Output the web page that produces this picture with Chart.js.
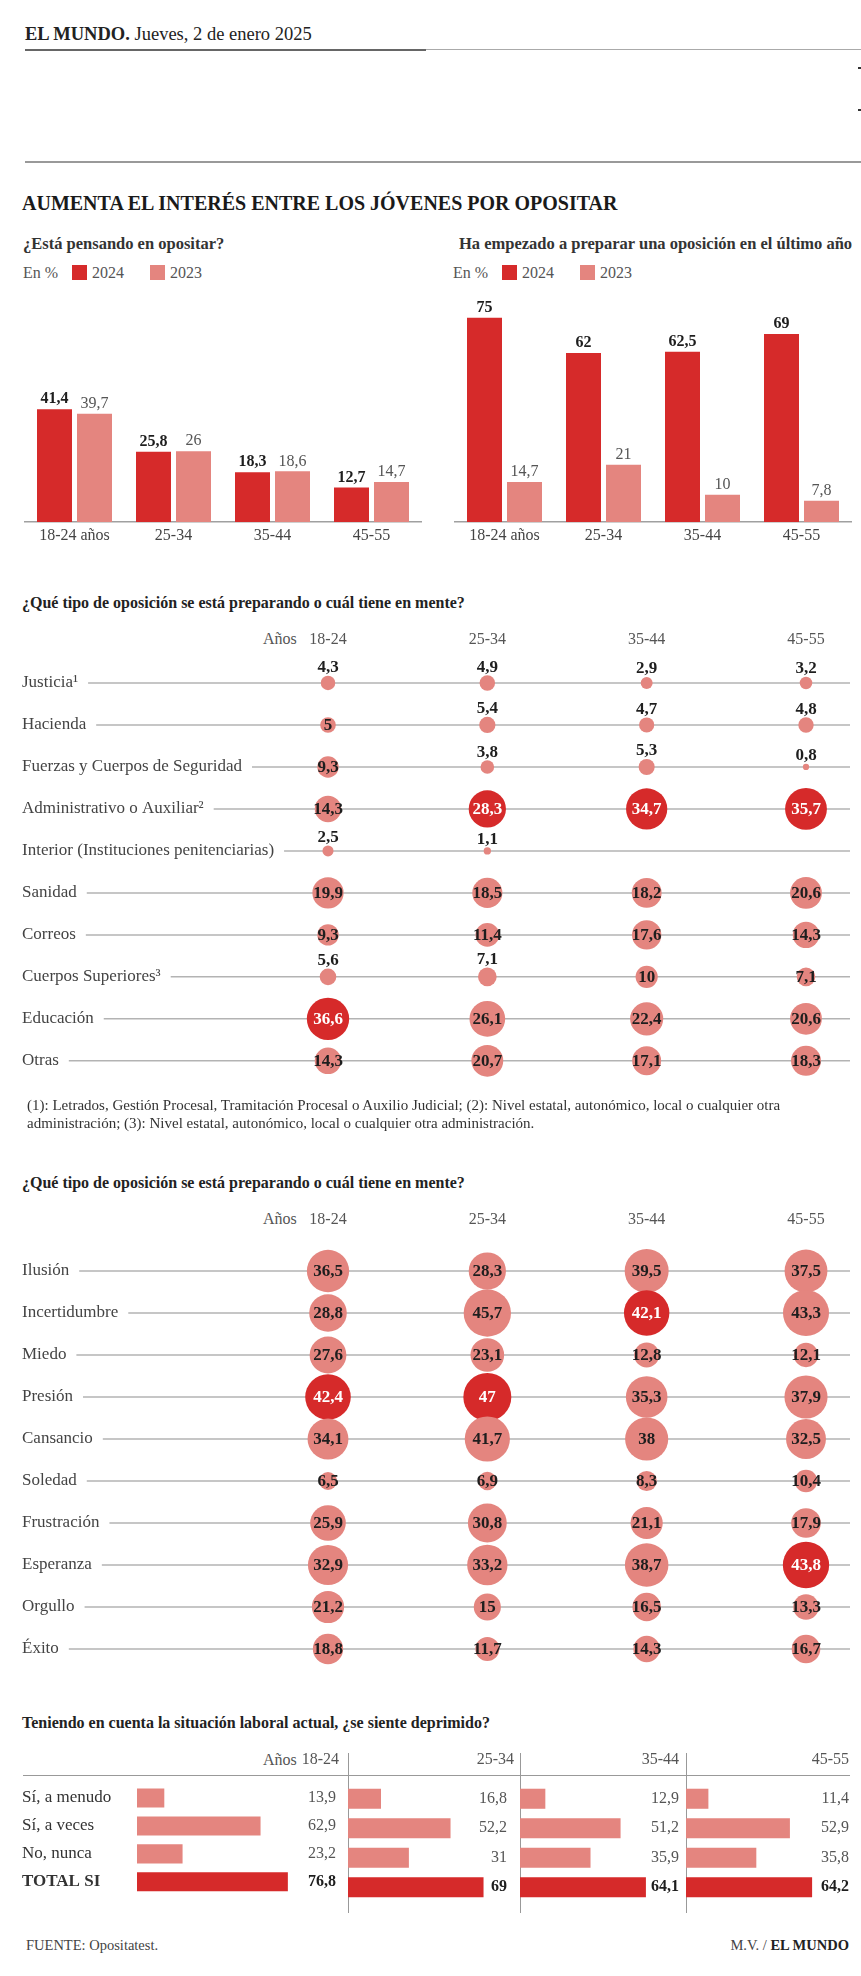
<!DOCTYPE html>
<html lang="es">
<head>
<meta charset="utf-8">
<script src="https://cdn.jsdelivr.net/npm/chart.js@4.4.1/dist/chart.umd.min.js"></script>
<style>
  html, body { margin: 0; padding: 0; background: #fff; }
  body { width: 861px; height: 1976px; position: relative; overflow: hidden;
         font-family: "Liberation Serif", "DejaVu Serif", serif; color: #222; }
  .t { position: absolute; white-space: nowrap; line-height: 20px; }
  .rule { position: absolute; }
  .sq { display: inline-block; width: 15px; height: 15px; vertical-align: -2px; margin-right: 5px; }
  canvas { position: absolute; }
</style>
</head>
<body>
<!-- cabecera -->
<div class="t" style="left:25px; top:24px; font-size:18.5px;"><b>EL MUNDO.</b> Jueves, 2 de enero 2025</div>
<div class="rule" style="left:25px; top:49px; width:401px; height:2px; background:#666;"></div>
<div class="rule" style="left:426px; top:49px; width:435px; height:1px; background:#aaa;"></div>
<div class="rule" style="left:858px; top:67px; width:3px; height:2px; background:#333;"></div>
<div class="rule" style="left:858px; top:109px; width:3px; height:2px; background:#333;"></div>
<div class="rule" style="left:25px; top:161px; width:836px; height:2px; background:#999;"></div>
<div class="t" style="left:22px; top:193px; font-size:20px; font-weight:bold; color:#1a1a1a;">AUMENTA EL INTERÉS ENTRE LOS JÓVENES POR OPOSITAR</div>

<!-- barras -->
<div class="t" style="left:23px; top:234px; font-size:16.5px; font-weight:bold; color:#333;">¿Está pensando en opositar?</div>
<div class="t" style="left:23px; top:263px; font-size:16px; color:#555;">En %<span style="display:inline-block;width:14px"></span><span class="sq" style="background:#d62a2a"></span>2024<span style="display:inline-block;width:26px"></span><span class="sq" style="background:#e4857f"></span>2023</div>
<div class="t" style="left:459px; top:234px; font-size:16.5px; font-weight:bold; color:#333;">Ha empezado a preparar una oposición en el último año</div>
<div class="t" style="left:453px; top:263px; font-size:16px; color:#555;">En %<span style="display:inline-block;width:14px"></span><span class="sq" style="background:#d62a2a"></span>2024<span style="display:inline-block;width:26px"></span><span class="sq" style="background:#e4857f"></span>2023</div>
<canvas id="pensando" width="430" height="310" style="left:0; top:240px; width:430px; height:310px;"></canvas>
<canvas id="empezado" width="431" height="310" style="left:430px; top:240px; width:431px; height:310px;"></canvas>

<!-- tipo de oposicion -->
<div class="t" style="left:22px; top:593px; font-size:16px; font-weight:bold; color:#222;">¿Qué tipo de oposición se está preparando o cuál tiene en mente?</div>
<div class="t" style="left:263px; top:629px; font-size:16px; color:#555;">Años</div>
<canvas id="tipo" width="861" height="488" style="left:0; top:615px; width:861px; height:488px;"></canvas>
<div class="t" style="left:27px; top:1096px; font-size:15px; color:#333; line-height:18px;">(1): Letrados, Gestión Procesal, Tramitación Procesal o Auxilio Judicial; (2): Nivel estatal, autonómico, local o cualquier otra<br>administración; (3): Nivel estatal, autonómico, local o cualquier otra administración.</div>

<!-- emociones -->
<div class="t" style="left:22px; top:1173px; font-size:16px; font-weight:bold; color:#222;">¿Qué tipo de oposición se está preparando o cuál tiene en mente?</div>
<div class="t" style="left:263px; top:1209px; font-size:16px; color:#555;">Años</div>
<canvas id="emocion" width="861" height="500" style="left:0; top:1200px; width:861px; height:500px;"></canvas>

<!-- deprimido -->
<div class="t" style="left:22px; top:1713px; font-size:16px; font-weight:bold; color:#222;">Teniendo en cuenta la situación laboral actual, ¿se siente deprimido?</div>
<div class="t" style="left:263px; top:1750px; font-size:16px; color:#555;">Años</div>
<div class="rule" style="left:23px; top:1775px; width:827px; height:1px; background:#999;"></div>
<div class="rule" style="left:348px; top:1753px; width:1px; height:160px; background:#999;"></div>
<div class="rule" style="left:520px; top:1753px; width:1px; height:160px; background:#999;"></div>
<div class="rule" style="left:686px; top:1753px; width:1px; height:160px; background:#999;"></div>
<canvas id="dep0" width="348" height="166" style="left:0; top:1740px; width:348px; height:166px;"></canvas>
<canvas id="dep1" width="172" height="166" style="left:348px; top:1740px; width:172px; height:166px;"></canvas>
<canvas id="dep2" width="166" height="166" style="left:520px; top:1740px; width:166px; height:166px;"></canvas>
<canvas id="dep3" width="175" height="166" style="left:686px; top:1740px; width:175px; height:166px;"></canvas>

<div class="t" style="left:26px; top:1935px; font-size:14.5px; color:#444;">FUENTE: Opositatest.</div>
<div class="t" style="right:12px; top:1935px; font-size:14.5px; color:#444;">M.V. / <b style="color:#222">EL MUNDO</b></div>

<script>
// --- datos ---
const ageGroups = ['18-24 años', '25-34', '35-44', '45-55'];
const pensando2024 = [41.4, 25.8, 18.3, 12.7];
const pensando2023 = [39.7, 26, 18.6, 14.7];
const empezado2024 = [75, 62, 62.5, 69];
const empezado2023 = [14.7, 21, 10, 7.8];

const ageCols = ['18-24', '25-34', '35-44', '45-55'];

const tipoLabels = ['Justicia¹', 'Hacienda', 'Fuerzas y Cuerpos de Seguridad', 'Administrativo o Auxiliar²',
  'Interior (Instituciones penitenciarias)', 'Sanidad', 'Correos', 'Cuerpos Superiores³', 'Educación', 'Otras'];
const tipo1824 = [4.3, 5, 9.3, 14.3, 2.5, 19.9, 9.3, 5.6, 36.6, 14.3];
const tipo2534 = [4.9, 5.4, 3.8, 28.3, 1.1, 18.5, 11.4, 7.1, 26.1, 20.7];
const tipo3544 = [2.9, 4.7, 5.3, 34.7, null, 18.2, 17.6, 10, 22.4, 17.1];
const tipo4555 = [3.2, 4.8, 0.8, 35.7, null, 20.6, 14.3, 7.1, 20.6, 18.3];

const emocionLabels = ['Ilusión', 'Incertidumbre', 'Miedo', 'Presión', 'Cansancio', 'Soledad',
  'Frustración', 'Esperanza', 'Orgullo', 'Éxito'];
const emocion1824 = [36.5, 28.8, 27.6, 42.4, 34.1, 6.5, 25.9, 32.9, 21.2, 18.8];
const emocion2534 = [28.3, 45.7, 23.1, 47, 41.7, 6.9, 30.8, 33.2, 15, 11.7];
const emocion3544 = [39.5, 42.1, 12.8, 35.3, 38, 8.3, 21.1, 38.7, 16.5, 14.3];
const emocion4555 = [37.5, 43.3, 12.1, 37.9, 32.5, 10.4, 17.9, 43.8, 13.3, 16.7];

const deprimidoLabels = ['Sí, a menudo', 'Sí, a veces', 'No, nunca', 'TOTAL SI'];
const deprimido1824 = [13.9, 62.9, 23.2, 76.8];
const deprimido2534 = [16.8, 52.2, 31, 69];
const deprimido3544 = [12.9, 51.2, 35.9, 64.1];
const deprimido4555 = [11.4, 52.9, 35.8, 64.2];

// --- estilo ---
const RED = '#d62a2a';
const PINK = '#e4857f';
const SERIF = '"Liberation Serif", "DejaVu Serif", serif';
Chart.defaults.font.family = SERIF;

function fmt(v) { return String(v).replace('.', ','); }

// etiquetas encima de las barras
const barLabels = {
  id: 'barLabels',
  afterDatasetsDraw(chart) {
    const ctx = chart.ctx;
    ctx.save();
    ctx.textAlign = 'center';
    ctx.textBaseline = 'middle';
    chart.data.datasets.forEach((ds, i) => {
      ctx.font = (i === 0 ? 'bold ' : '') + '16px ' + SERIF;
      ctx.fillStyle = i === 0 ? '#1e1e1e' : '#555';
      chart.getDatasetMeta(i).data.forEach((bar, j) => {
        ctx.fillText(fmt(ds.data[j]), bar.x, bar.y - 10);
      });
    });
    ctx.restore();
  }
};

function groupedBars(id, a, b, padLeft, padRight) {
  new Chart(document.getElementById(id), {
    type: 'bar',
    data: {
      labels: ageGroups,
      datasets: [
        { label: '2024', data: a, backgroundColor: RED },
        { label: '2023', data: b, backgroundColor: PINK }
      ]
    },
    options: {
      responsive: false,
      animation: false,
      events: [],
      datasets: { bar: { categoryPercentage: 0.808, barPercentage: 0.875 } },
      layout: { padding: { left: padLeft, right: padRight, top: 64, bottom: 0 } },
      scales: {
        x: {
          grid: { display: false, drawTicks: false },
          border: { color: '#a0a0a0', width: 1.5 },
          ticks: { font: { size: 16 }, color: '#444', padding: 4 },
          afterFit(s) { s.height = 28; }
        },
        y: { display: false, min: 0, max: 80 }
      },
      plugins: { legend: { display: false }, tooltip: { enabled: false } }
    },
    plugins: [barLabels]
  });
}

groupedBars('pensando', pensando2024, pensando2023, 25, 9);
groupedBars('empezado', empezado2024, empezado2023, 25, 10);

// filas, lineas y valores de las burbujas
const bubbleDecor = {
  id: 'bubbleDecor',
  beforeDatasetsDraw(chart, args, opts) {
    const ctx = chart.ctx;
    const y = chart.scales.y;
    ctx.save();
    ctx.font = '17px ' + SERIF;
    ctx.textBaseline = 'middle';
    ctx.textAlign = 'left';
    opts.rows.forEach((name, i) => {
      const py = y.getPixelForValue(i);
      ctx.fillStyle = '#444';
      ctx.fillText(name, 22, py);
      const w = ctx.measureText(name).width;
      ctx.strokeStyle = '#b3b3b3';
      ctx.lineWidth = 1.5;
      ctx.beginPath();
      ctx.moveTo(22 + w + 10, py);
      ctx.lineTo(850, py);
      ctx.stroke();
    });
    ctx.restore();
  },
  afterDatasetsDraw(chart, args, opts) {
    const ctx = chart.ctx;
    ctx.save();
    ctx.font = 'bold 17px ' + SERIF;
    ctx.textAlign = 'center';
    ctx.textBaseline = 'middle';
    chart.data.datasets.forEach((ds, c) => {
      chart.getDatasetMeta(c).data.forEach((pt, k) => {
        const raw = ds.data[k];
        const above = opts.above.includes(raw.y + '-' + c);
        if (above) {
          ctx.fillStyle = '#1e1e1e';
          ctx.fillText(fmt(raw.v), pt.x, pt.y - raw.r - 8);
        } else {
          ctx.fillStyle = raw.top ? '#fff' : '#1e1e1e';
          ctx.fillText(fmt(raw.v), pt.x, pt.y + 1);
        }
      });
    });
    ctx.restore();
  }
};

function bubbleGrid(id, rows, cols, axisH, tickPad, padBottom, above) {
  const datasets = cols.map((vals, c) => {
    const max = Math.max(...vals.filter((v) => v != null));
    const data = [];
    vals.forEach((v, r) => {
      if (v == null) return;
      data.push({ x: ageCols[c], y: r, r: 3.5 * Math.sqrt(v), v, top: v === max });
    });
    return {
      data,
      clip: false,
      borderWidth: 0,
      backgroundColor: (ctx) => (ctx.raw && ctx.raw.top ? RED : PINK)
    };
  });
  new Chart(document.getElementById(id), {
    type: 'bubble',
    data: { labels: ageCols, datasets },
    options: {
      responsive: false,
      animation: false,
      events: [],
      layout: { padding: { left: 328, right: 55, top: 0, bottom: padBottom } },
      scales: {
        x: {
          type: 'category',
          labels: ageCols,
          position: 'top',
          offset: false,
          grid: { display: false, drawTicks: false },
          border: { display: false },
          ticks: { font: { size: 16 }, color: '#555', padding: tickPad },
          afterFit(s) { s.height = axisH; }
        },
        y: { display: false, min: -0.5, max: rows.length - 0.5, reverse: true }
      },
      plugins: {
        legend: { display: false },
        tooltip: { enabled: false },
        bubbleDecor: { rows, above }
      }
    },
    plugins: [bubbleDecor]
  });
}

bubbleGrid('tipo', tipoLabels, [tipo1824, tipo2534, tipo3544, tipo4555], 47, 13, 20,
  ['0-0', '0-1', '0-2', '0-3', '1-1', '1-2', '1-3', '2-1', '2-2', '2-3', '4-0', '4-1', '7-0', '7-1']);
bubbleGrid('emocion', emocionLabels, [emocion1824, emocion2534, emocion3544, emocion4555], 50, 21, 30, []);

// barras horizontales por franja de edad
const depLabels = {
  id: 'depLabels',
  afterDatasetsDraw(chart, args, opts) {
    const ctx = chart.ctx;
    const ds = chart.data.datasets[0];
    ctx.save();
    ctx.textAlign = 'right';
    ctx.textBaseline = 'middle';
    chart.getDatasetMeta(0).data.forEach((bar, j) => {
      const total = j === ds.data.length - 1;
      ctx.font = (total ? 'bold ' : '') + '16px ' + SERIF;
      ctx.fillStyle = total ? '#1e1e1e' : '#555';
      ctx.fillText(fmt(ds.data[j]), opts.labelX, bar.y);
    });
    ctx.font = '16px ' + SERIF;
    ctx.fillStyle = '#555';
    ctx.fillText(opts.header, opts.headerX, 20);
    ctx.restore();
  }
};

const depCols = [deprimido1824, deprimido2534, deprimido3544, deprimido4555];
const depLayout = [
  { left: 22, right: 46, labelX: 336, headerX: 339 },
  { left: 0, right: 7, labelX: 159, headerX: 166 },
  { left: 0, right: 1, labelX: 159, headerX: 159 },
  { left: 0, right: 10, labelX: 163, headerX: 163 }
];

depCols.forEach((vals, i) => {
  const lay = depLayout[i];
  const yAxis = i === 0
    ? {
        grid: { display: false, drawTicks: false },
        border: { display: false },
        ticks: {
          crossAlign: 'far',
          padding: 0,
          color: '#333',
          font: (ctx) => ({ size: 17, weight: ctx.index === 3 ? 'bold' : 'normal' })
        },
        afterFit(s) { s.width = 115; }
      }
    : { display: false };
  new Chart(document.getElementById('dep' + i), {
    type: 'bar',
    data: {
      labels: deprimidoLabels,
      datasets: [{
        data: vals,
        backgroundColor: deprimidoLabels.map((l, j) => (j === deprimidoLabels.length - 1 ? RED : PINK)),
        categoryPercentage: 1,
        barPercentage: 0.68
      }]
    },
    options: {
      indexAxis: 'y',
      responsive: false,
      animation: false,
      events: [],
      layout: { padding: { left: lay.left, right: lay.right, top: 44, bottom: 4 } },
      scales: {
        x: { display: false, min: 0, max: 84 },
        y: yAxis
      },
      plugins: {
        legend: { display: false },
        tooltip: { enabled: false },
        depLabels: { labelX: lay.labelX, headerX: lay.headerX, header: ageCols[i] }
      }
    },
    plugins: [depLabels]
  });
});
</script>
</body>
</html>
